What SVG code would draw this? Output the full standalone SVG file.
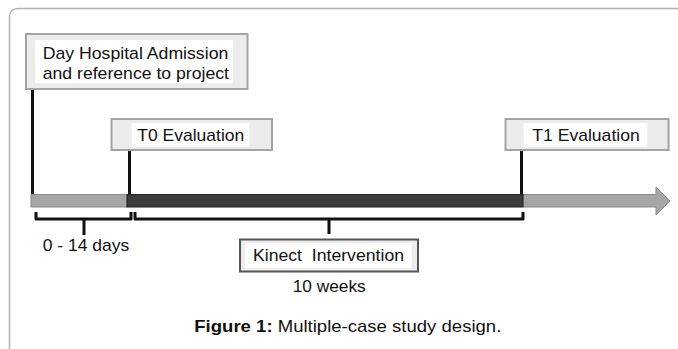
<svg xmlns="http://www.w3.org/2000/svg" width="678" height="349" viewBox="0 0 678 349">
<style>
text{font-family:"Liberation Sans",Arial,sans-serif;font-size:17px;fill:#111}
.box{fill:#ececec;stroke:#a3a3a3;stroke-width:2}
.kbox{fill:#ececec;stroke:#555;stroke-width:2}
.inner{fill:#fff}
.vl{stroke:#111;stroke-width:3;fill:none}
.br{stroke:#111;stroke-width:3;fill:none;stroke-linejoin:round}
</style>
<rect width="678" height="349" fill="#fff"/>
<path d="M9.5 349 V16.5 A8 8 0 0 1 17.5 8.5 H678" fill="none" stroke="#b0b0b0" stroke-width="1.5"/>
<g id="connectors">
<line class="vl" x1="32.5" y1="89" x2="32.5" y2="195"/>
<line class="vl" x1="129.5" y1="150" x2="129.5" y2="195"/>
<line class="vl" x1="521.5" y1="150" x2="521.5" y2="195"/>
<path class="br" d="M36 212 V219 H131 V212 M84 219 V235"/>
<path class="br" d="M135 212 V219 H523 V212 M329 219 V234"/>
</g>
<g id="timeline">
<rect x="31" y="194.5" width="96" height="12.5" fill="#a6a6a6" stroke="#8a8a8a" stroke-width="1"/>
<polygon points="523,194.5 656,194.5 656,187 670,201 656,215 656,207 523,207" fill="#a6a6a6" stroke="#8a8a8a" stroke-width="1"/>
<rect x="127" y="194.5" width="396" height="12.5" fill="#3c3c3c" stroke="#222" stroke-width="1"/>
</g>
<g id="admission">
<rect class="box" x="26" y="34" width="221.5" height="55"/>
<rect class="inner" x="35" y="40" width="198" height="43"/>
<text x="42.7" y="58.5" textLength="185.6" lengthAdjust="spacingAndGlyphs">Day Hospital Admission</text>
<text x="42.7" y="79" textLength="186.3" lengthAdjust="spacingAndGlyphs">and reference to project</text>
</g>
<g id="t0">
<rect class="box" x="111.5" y="119" width="160.5" height="31"/>
<rect class="inner" x="131.7" y="123" width="117.6" height="23.7"/>
<text x="137.3" y="141" textLength="107" lengthAdjust="spacingAndGlyphs">T0 Evaluation</text>
</g>
<g id="t1">
<rect class="box" x="505.5" y="119" width="163" height="31"/>
<rect class="inner" x="523.7" y="123" width="123.6" height="23.7"/>
<text x="532.3" y="141" textLength="107.4" lengthAdjust="spacingAndGlyphs">T1 Evaluation</text>
</g>
<g id="days">
<text x="42.7" y="251" textLength="86.6" lengthAdjust="spacingAndGlyphs">0 - 14 days</text>
</g>
<g id="kinect">
<rect class="kbox" x="240" y="239.5" width="178" height="32"/>
<rect class="inner" x="245" y="243.5" width="166.7" height="24.8"/>
<text x="253" y="261" textLength="151" lengthAdjust="spacingAndGlyphs" xml:space="preserve">Kinect  Intervention</text>
</g>
<g id="weeks">
<text x="292.7" y="292" textLength="73" lengthAdjust="spacingAndGlyphs">10 weeks</text>
</g>
<g id="caption">
<text x="194.3" y="332.3" textLength="307" lengthAdjust="spacingAndGlyphs"><tspan font-weight="bold">Figure 1:</tspan> Multiple-case study design.</text>
</g>
</svg>
